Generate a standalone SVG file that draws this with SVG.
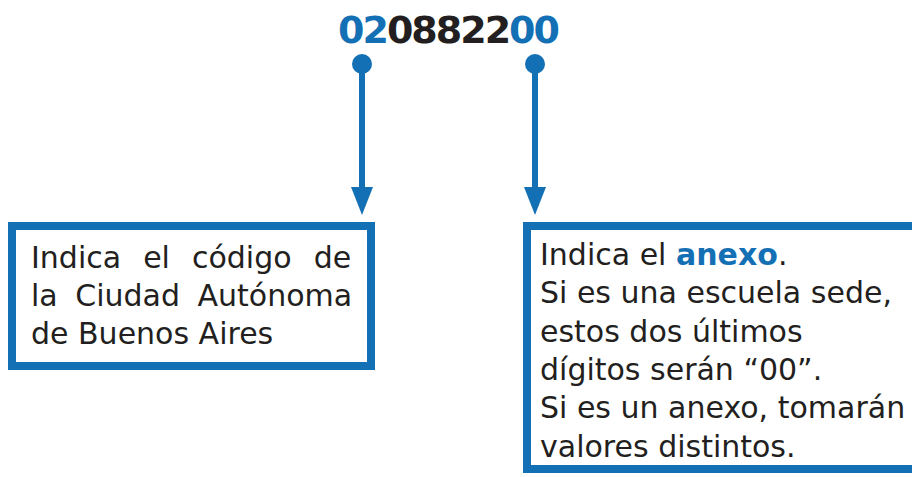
<svg xmlns="http://www.w3.org/2000/svg" width="912" height="477" viewBox="0 0 912 477">
<style>
.code{font-family:"DejaVu Sans",sans-serif;font-weight:bold;font-size:38px;fill:#231f20}
.blue{fill:#1470b5}
.body{font-family:"DejaVu Sans",sans-serif;font-size:30px;fill:#231f20}
.box{fill:#fff;stroke:#1470b5;stroke-width:8}
.conn{stroke:#1470b5;stroke-width:6;fill:none}
</style>
<g id="code">
<text class="code" x="338" y="43" textLength="222" lengthAdjust="spacing"><tspan class="blue">02</tspan>08822<tspan class="blue">00</tspan></text>
</g>
<g id="connectors">
<circle cx="362" cy="64" r="10" fill="#1470b5"/>
<circle cx="535" cy="64" r="10" fill="#1470b5"/>
<line class="conn" x1="362" y1="64" x2="362" y2="188"/>
<path d="M351,187 L373,187 L362,215 Z" fill="#1470b5"/>
<line class="conn" x1="535" y1="64" x2="535" y2="188"/>
<path d="M524,187 L546,187 L535,215 Z" fill="#1470b5"/>
</g>
<g id="box-left">
<rect class="box" x="12" y="226" width="359" height="140"/>
<text class="body" x="31" y="268" word-spacing="12.5">Indica el código de</text>
<text class="body" x="31" y="306" word-spacing="8">la Ciudad Autónoma</text>
<text class="body" x="31" y="344">de Buenos Aires</text>
</g>
<g id="box-right">
<rect class="box" x="527" y="226" width="400" height="243"/>
<text class="body" x="540" y="265">Indica el <tspan class="blue" font-weight="bold">anexo</tspan>.</text>
<text class="body" x="540" y="303">Si es una escuela sede,</text>
<text class="body" x="540" y="342">estos dos últimos</text>
<text class="body" x="540" y="380">dígitos serán “00”.</text>
<text class="body" x="540" y="418">Si es un anexo, tomarán</text>
<text class="body" x="540" y="457">valores distintos.</text>
</g>
</svg>
